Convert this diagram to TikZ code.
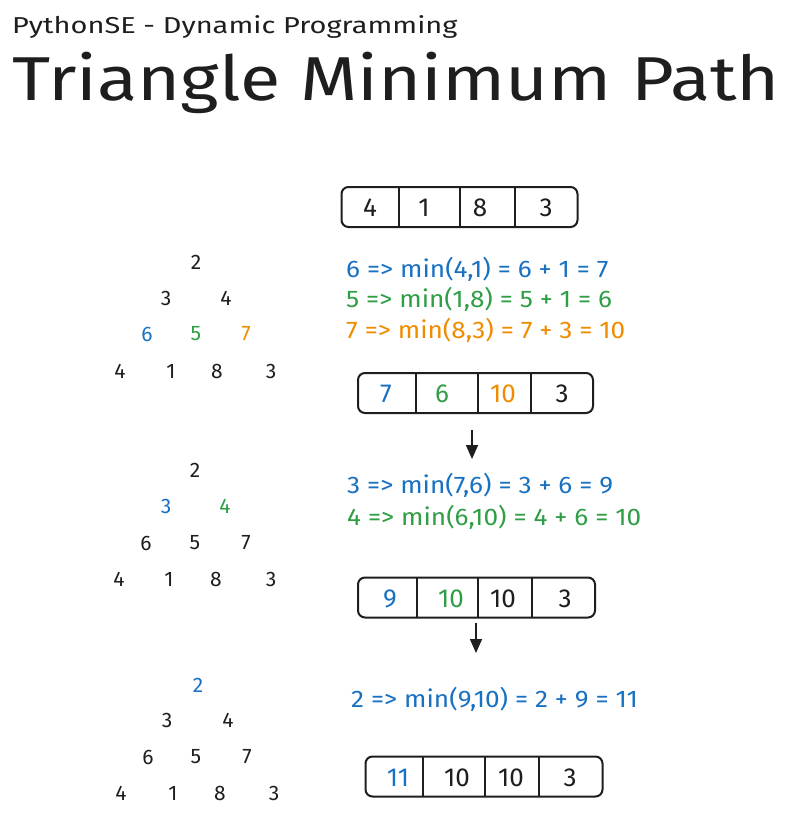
\documentclass[tikz,border=0pt]{standalone}
\usepackage{fontspec}
\setmainfont{Fira Sans}
\newfontfamily\eqfont[FakeStretch=1.09]{Fira Sans}
\newfontfamily\titlefont[FakeStretch=1.19]{Fira Sans}
\newfontfamily\subfont[FakeStretch=1.26]{Fira Sans}
\usetikzlibrary{arrows.meta}
\definecolor{ink}{HTML}{1E1E1E}
\definecolor{cblue}{HTML}{1971C2}
\definecolor{cgreen}{HTML}{2F9E44}
\definecolor{corange}{HTML}{F08C00}
\begin{document}
\begin{tikzpicture}[x=1pt,y=-1pt,
  num/.style={inner sep=0pt, font=\fontsize{21}{21}\selectfont, text=ink},
  eq/.style={anchor=base west, inner sep=0pt, font=\eqfont\fontsize{24}{24}\selectfont},
  cell/.style={inner sep=0pt, font=\fontsize{26}{26}\selectfont, text=ink},
  arraybox/.style={draw=ink, line width=2pt, rounded corners=7pt, minimum height=40pt, inner sep=0pt},
  divider/.style={draw=ink, line width=1.5pt},
  flow/.style={draw=ink, line width=1.6pt, -{Triangle[length=14pt,width=12pt]}}
]
\useasboundingbox (0,0) rectangle (788,819);
\fill[white] (0,0) rectangle (788,819);

% titles
\node[anchor=base west, inner sep=0pt, font=\subfont\fontsize{23}{23}\selectfont, text=ink] (sub) at (12,33) {PythonSE - Dynamic Programming};
\node[anchor=base west, inner sep=0pt, font=\titlefont\fontsize{62}{62}\selectfont, text=ink] (title) at (12,100) {Triangle Minimum Path};

% array 1
\node[arraybox, minimum width=236pt] (a1) at (459.5,207) {};
\draw[divider] (399,187) -- (399,227);
\draw[divider] (460,187) -- (460,227);
\draw[divider] (515,187) -- (515,227);
\node[cell] (a1c1) at (370,208) {4};
\node[cell] (a1c2) at (424,208) {1};
\node[cell] (a1c3) at (480,208) {8};
\node[cell] (a1c4) at (546,208) {3};

% triangle 1
\node[num] (t1a) at (196,262) {2};
\node[num] (t1b) at (166,298) {3};
\node[num] (t1c) at (226,298) {4};
\node[num, text=cblue] (t1d) at (147,334) {6};
\node[num, text=cgreen] (t1e) at (196,334) {5};
\node[num, text=corange] (t1f) at (246,334) {7};
\node[num] (t1g) at (120,371) {4};
\node[num] (t1h) at (171,371) {1};
\node[num] (t1i) at (217,371) {8};
\node[num] (t1j) at (271,371) {3};

% equations 1
\node[eq, text=cblue] (e1a) at (346,277) {6 => min(4,1) = 6 + 1 = 7};
\node[eq, text=cgreen] (e1b) at (346,307) {5 => min(1,8) = 5 + 1 = 6};
\node[eq, text=corange] (e1c) at (346,338) {7 => min(8,3) = 7 + 3 = 10};

% array 2
\node[arraybox, minimum width=235pt] (a2) at (475.5,393) {};
\draw[divider] (416,373) -- (416,413);
\draw[divider] (478,373) -- (478,413);
\draw[divider] (531,373) -- (531,413);
\node[cell, text=cblue] (a2c1) at (386,394) {7};
\node[cell, text=cgreen] (a2c2) at (442,394) {6};
\node[cell, text=corange] (a2c3) at (503,394) {10};
\node[cell] (a2c4) at (562,394) {3};

% arrow 1
\coordinate (r1s) at (472,430);
\coordinate (r1e) at (472,459);
\draw[flow] (r1s) -- (r1e);

% triangle 2
\node[num] (t2a) at (195,470) {2};
\node[num, text=cblue] (t2b) at (166,506) {3};
\node[num, text=cgreen] (t2c) at (225,506) {4};
\node[num] (t2d) at (146,543) {6};
\node[num] (t2e) at (195,543) {5};
\node[num] (t2f) at (246,543) {7};
\node[num] (t2g) at (119,579) {4};
\node[num] (t2h) at (169,579) {1};
\node[num] (t2i) at (216,579) {8};
\node[num] (t2j) at (271,579) {3};

% equations 2
\node[eq, text=cblue] (e2a) at (347,493) {3 => min(7,6) = 3 + 6 = 9};
\node[eq, text=cgreen] (e2b) at (347,525) {4 => min(6,10) = 4 + 6 = 10};

% array 3
\node[arraybox, minimum width=237pt] (a3) at (476.5,597.5) {};
\draw[divider] (417,578) -- (417,617);
\draw[divider] (478,578) -- (478,617);
\draw[divider] (532,578) -- (532,617);
\node[cell, text=cblue] (a3c1) at (390,599) {9};
\node[cell, text=cgreen] (a3c2) at (451,599) {10};
\node[cell] (a3c3) at (503,599) {10};
\node[cell] (a3c4) at (565,599) {3};

% arrow 2
\coordinate (r2s) at (476,623);
\coordinate (r2e) at (476,653);
\draw[flow] (r2s) -- (r2e);

% triangle 3
\node[num, text=cblue] (t3a) at (198,685) {2};
\node[num] (t3b) at (167,720) {3};
\node[num] (t3c) at (228,720) {4};
\node[num] (t3d) at (148,757) {6};
\node[num] (t3e) at (196,757) {5};
\node[num] (t3f) at (247,757) {7};
\node[num] (t3g) at (121,793) {4};
\node[num] (t3h) at (173,793) {1};
\node[num] (t3i) at (220,793) {8};
\node[num] (t3j) at (274,793) {3};

% equation 3
\node[eq, text=cblue] (e3a) at (351,707) {2 => min(9,10) = 2 + 9 = 11};

% array 4
\node[arraybox, minimum width=237pt] (a4) at (484,776.5) {};
\draw[divider] (423,757) -- (423,796);
\draw[divider] (485,757) -- (485,796);
\draw[divider] (539,757) -- (539,796);
\node[cell, text=cblue] (a4c1) at (398,778) {11};
\node[cell] (a4c2) at (457,778) {10};
\node[cell] (a4c3) at (511,778) {10};
\node[cell] (a4c4) at (570,778) {3};
\end{tikzpicture}
\end{document}
